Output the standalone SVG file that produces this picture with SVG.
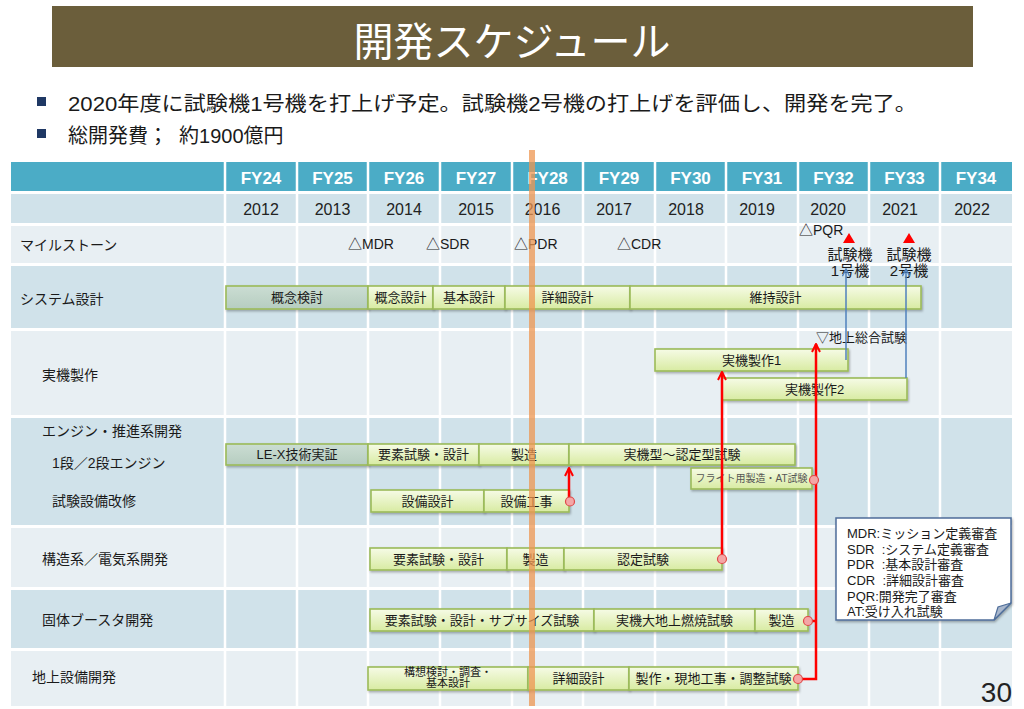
<svg xmlns="http://www.w3.org/2000/svg" width="1024" height="709" viewBox="0 0 1024 709">
<defs>
<linearGradient id="gGreen" x1="0" y1="0" x2="0" y2="1">
<stop offset="0" stop-color="#F6FBE6"/>
<stop offset="1" stop-color="#D8EBA2"/>
</linearGradient>
<linearGradient id="gGray" x1="0" y1="0" x2="0" y2="1">
<stop offset="0" stop-color="#CBDDD3"/>
<stop offset="1" stop-color="#B6CDC0"/>
</linearGradient>
<filter id="sh" x="-5%" y="-20%" width="110%" height="150%">
<feDropShadow dx="1" dy="1.5" stdDeviation="1" flood-color="#000" flood-opacity="0.3"/>
</filter>
<marker id="arrR" viewBox="0 0 10 10" refX="9" refY="5" markerWidth="10" markerHeight="10" markerUnits="userSpaceOnUse" orient="auto">
<path d="M1,1 L9,5 L1,9" fill="none" stroke="#FF0000" stroke-width="2"/>
</marker>
<marker id="arrB" viewBox="0 0 10 10" refX="9" refY="5" markerWidth="9" markerHeight="9" markerUnits="userSpaceOnUse" orient="auto">
<path d="M1,1 L9,5 L1,9" fill="none" stroke="#4F81BD" stroke-width="1.6"/>
</marker>
</defs>
<style>
text{font-family:"Liberation Sans","Noto Sans CJK JP",sans-serif;fill:#1a1a1a}
.fy{font-size:17px;font-weight:bold;fill:#fff;text-anchor:middle}
.yr{font-size:16px;text-anchor:middle;fill:#222}
.lbl{font-size:14px}
.ms{font-size:14px}
.bar{fill:url(#gGreen);stroke:#9BBB59;stroke-width:1.6;filter:url(#sh)}
.barg{fill:url(#gGray);stroke:#9BBB59;stroke-width:1.6;filter:url(#sh)}
.bt{font-size:13px;text-anchor:middle}
.bs{font-size:10px;text-anchor:middle;fill:#555}
.b2{font-size:11px;text-anchor:middle}
.vl{stroke:#fff;stroke-width:2.5}
.red{fill:none;stroke:#FF0000;stroke-width:2.5}
.blue{fill:none;stroke:#4F81BD;stroke-width:1.5}
.dot{fill:#F4A6A6;stroke:#E04848;stroke-width:1.2}
.lg{font-size:13px}
</style>
<rect width="1024" height="709" fill="#fff"/>
<g id="title">
<rect x="52" y="6" width="921" height="61" fill="#6B5E3B"/>
<text x="512" y="56" font-size="40" text-anchor="middle" style="fill:#fff">開発スケジュール</text>
</g>
<g id="bullets">
<rect x="37" y="97" width="9" height="9" fill="#1F3864"/>
<text x="68" y="111" font-size="20" textLength="849" lengthAdjust="spacingAndGlyphs">2020年度に試験機1号機を打上げ予定。試験機2号機の打上げを評価し、開発を完了。</text>
<rect x="37" y="129" width="9" height="9" fill="#1F3864"/>
<text x="68" y="143" font-size="20" xml:space="preserve">総開発費；  約1900億円</text>
</g>
<g id="grid">
<rect x="11" y="162" width="1001" height="29" fill="#4BACC6"/>
<rect x="11" y="194" width="1001" height="29" fill="#D0E2EA"/>
<rect x="11" y="226" width="1001" height="37" fill="#E8EFF3"/>
<rect x="11" y="266" width="1001" height="62" fill="#D0E2EA"/>
<rect x="11" y="331" width="1001" height="84" fill="#E8EFF3"/>
<rect x="11" y="418" width="1001" height="107" fill="#D0E2EA"/>
<rect x="11" y="528" width="1001" height="59" fill="#E8EFF3"/>
<rect x="11" y="590" width="1001" height="58" fill="#D0E2EA"/>
<rect x="11" y="651" width="1001" height="55" fill="#E8EFF3"/>
<line class="vl" x1="225" y1="160" x2="225" y2="708"/>
<line class="vl" x1="297" y1="160" x2="297" y2="708"/>
<line class="vl" x1="368" y1="160" x2="368" y2="708"/>
<line class="vl" x1="440" y1="160" x2="440" y2="708"/>
<line class="vl" x1="512" y1="160" x2="512" y2="708"/>
<line class="vl" x1="583" y1="160" x2="583" y2="708"/>
<line class="vl" x1="655" y1="160" x2="655" y2="708"/>
<line class="vl" x1="726" y1="160" x2="726" y2="708"/>
<line class="vl" x1="798" y1="160" x2="798" y2="708"/>
<line class="vl" x1="869" y1="160" x2="869" y2="708"/>
<line class="vl" x1="940" y1="160" x2="940" y2="708"/>
</g>
<g id="header">
<text class="fy" x="261" y="184">FY24</text>
<text class="fy" x="332.5" y="184">FY25</text>
<text class="fy" x="404" y="184">FY26</text>
<text class="fy" x="476" y="184">FY27</text>
<text class="fy" x="547.5" y="184">FY28</text>
<text class="fy" x="619" y="184">FY29</text>
<text class="fy" x="690.5" y="184">FY30</text>
<text class="fy" x="762" y="184">FY31</text>
<text class="fy" x="833.5" y="184">FY32</text>
<text class="fy" x="904.5" y="184">FY33</text>
<text class="fy" x="976" y="184">FY34</text>
<text class="yr" x="261" y="215">2012</text>
<text class="yr" x="332.5" y="215">2013</text>
<text class="yr" x="404" y="215">2014</text>
<text class="yr" x="476" y="215">2015</text>
<text class="yr" x="542.5" y="215">2016</text>
<text class="yr" x="614" y="215">2017</text>
<text class="yr" x="686" y="215">2018</text>
<text class="yr" x="757" y="215">2019</text>
<text class="yr" x="828" y="215">2020</text>
<text class="yr" x="900" y="215">2021</text>
<text class="yr" x="972" y="215">2022</text>
</g>
<g id="row-labels">
<text class="lbl" x="20" y="250">マイルストーン</text>
<text class="lbl" x="20" y="304">システム設計</text>
<text class="lbl" x="42" y="380">実機製作</text>
<text class="lbl" x="42" y="436">エンジン・推進系開発</text>
<text class="lbl" x="52" y="468">1段／2段エンジン</text>
<text class="lbl" x="52" y="506">試験設備改修</text>
<text class="lbl" x="42" y="564">構造系／電気系開発</text>
<text class="lbl" x="42" y="625">固体ブースタ開発</text>
<text class="lbl" x="32" y="682">地上設備開発</text>
</g>
<g id="milestones">
<text class="ms" x="348" y="249">△MDR</text>
<text class="ms" x="426" y="249">△SDR</text>
<text class="ms" x="514" y="249">△PDR</text>
<text class="ms" x="617" y="249">△CDR</text>
<text class="ms" x="799" y="235">△PQR</text>
</g>
<g id="launch1">
<polygon points="849,233 855,243 843,243" fill="#FF0000"/>
<text x="850" y="260" font-size="15" text-anchor="middle">試験機</text>
<text x="850" y="276" font-size="15" text-anchor="middle">1号機</text>
</g>
<g id="launch2">
<polygon points="909,233 915,243 903,243" fill="#FF0000"/>
<text x="909" y="260" font-size="15" text-anchor="middle">試験機</text>
<text x="909" y="276" font-size="15" text-anchor="middle">2号機</text>
</g>
<g id="sys-bars">
<g id="bar-gainen-kento"><rect class="barg" x="226" y="286" width="142" height="23"/><text class="bt" x="297" y="302">概念検討</text></g>
<g id="bar-gainen-sekkei"><rect class="bar" x="368" y="286" width="65" height="23"/><text class="bt" x="400.5" y="302">概念設計</text></g>
<g id="bar-kihon-sekkei"><rect class="bar" x="433" y="286" width="72" height="23"/><text class="bt" x="469" y="302">基本設計</text></g>
<g id="bar-shosai-sekkei"><rect class="bar" x="505" y="286" width="125" height="23"/><text class="bt" x="567.5" y="302">詳細設計</text></g>
<g id="bar-iji-sekkei"><rect class="bar" x="630" y="286" width="291" height="23"/><text class="bt" x="775.5" y="302">維持設計</text></g>
</g>
<g id="jikki-bars">
<g id="bar-jikki1"><rect class="bar" x="655" y="349" width="193" height="22"/><text class="bt" x="751.5" y="364.5">実機製作1</text></g>
<g id="bar-jikki2"><rect class="bar" x="722" y="378" width="185" height="22"/><text class="bt" x="814.5" y="393.5">実機製作2</text></g>
<g id="chijo-sogo"><text x="816" y="342" font-size="13">▽地上総合試験</text></g>
</g>
<g id="engine-bars">
<g id="bar-lex"><rect class="barg" x="226" y="444" width="142" height="21"/><text class="bt" x="297" y="459">LE-X技術実証</text></g>
<g id="bar-eng-yoso"><rect class="bar" x="368" y="444" width="111" height="21"/><text class="bt" x="423.5" y="459">要素試験・設計</text></g>
<g id="bar-eng-seizo"><rect class="bar" x="479" y="444" width="90" height="21"/><text class="bt" x="524" y="459">製造</text></g>
<g id="bar-eng-nintei"><rect class="bar" x="569" y="444" width="226" height="21"/><text class="bt" x="682" y="459">実機型～認定型試験</text></g>
<g id="bar-flight"><rect class="bar" x="691" y="468" width="121" height="21"/><text class="bs" x="751.5" y="482">フライト用製造・AT試験</text></g>
<g id="bar-setsubi-sekkei"><rect class="bar" x="371" y="490" width="113" height="22"/><text class="bt" x="427.5" y="505.5">設備設計</text></g>
<g id="bar-setsubi-koji"><rect class="bar" x="484" y="490" width="85" height="22"/><text class="bt" x="526.5" y="505.5">設備工事</text></g>
</g>
<g id="struct-bars">
<g id="bar-st-yoso"><rect class="bar" x="370" y="548" width="137" height="22"/><text class="bt" x="438.5" y="563.5">要素試験・設計</text></g>
<g id="bar-st-seizo"><rect class="bar" x="507" y="548" width="57" height="22"/><text class="bt" x="535.5" y="563.5">製造</text></g>
<g id="bar-st-nintei"><rect class="bar" x="564" y="548" width="158" height="22"/><text class="bt" x="643" y="563.5">認定試験</text></g>
</g>
<g id="srb-bars">
<g id="bar-srb-yoso"><rect class="bar" x="370" y="609" width="224" height="22"/><text class="bt" x="482" y="624.5">要素試験・設計・サブサイズ試験</text></g>
<g id="bar-srb-nenshou"><rect class="bar" x="594" y="609" width="161" height="22"/><text class="bt" x="674.5" y="624.5">実機大地上燃焼試験</text></g>
<g id="bar-srb-seizo"><rect class="bar" x="755" y="609" width="53" height="22"/><text class="bt" x="781.5" y="624.5">製造</text></g>
</g>
<g id="ground-bars">
<g id="bar-gr-koso"><rect class="bar" x="368" y="667" width="160" height="23"/><text class="b2" x="448" y="676">構想検討・調査・</text><text class="b2" x="448" y="687">基本設計</text></g>
<g id="bar-gr-shosai"><rect class="bar" x="528" y="667" width="101" height="23"/><text class="bt" x="578.5" y="683">詳細設計</text></g>
<g id="bar-gr-seisaku"><rect class="bar" x="629" y="667" width="169" height="23"/><text class="bt" x="713.5" y="683">製作・現地工事・調整試験</text></g>
</g>
<g id="connectors">
<path class="blue" d="M846,360 V269" marker-end="url(#arrB)"/>
<path class="blue" d="M906,378 V269" marker-end="url(#arrB)"/>
<path class="red" d="M569,498 V468" marker-end="url(#arrR)"/>
<path class="red" d="M722,555 V372" marker-end="url(#arrR)"/>
<path class="red" d="M802,679 H816 V344" marker-end="url(#arrR)"/>
<path class="red" d="M812,621 H816"/>
<circle class="dot" cx="570" cy="501.5" r="4.5"/>
<circle class="dot" cx="722" cy="559" r="4.5"/>
<circle class="dot" cx="814" cy="480" r="4.5"/>
<circle class="dot" cx="808" cy="621" r="4.5"/>
<circle class="dot" cx="798" cy="679" r="4.5"/>
</g>
<g id="today-line">
<rect x="529" y="150" width="6" height="556" fill="#EE9550" opacity="0.75"/>
</g>
<g id="legend">
<path d="M836,518 H1011 V603 L994,620 H836 Z" fill="#fff" stroke="#4F6E9A" stroke-width="1.5" filter="url(#sh)"/>
<path d="M994,620 L998,607 L1011,603 Z" fill="#A9B7CC" stroke="#4F6E9A" stroke-width="1.2"/>
<text class="lg" x="847" y="538">MDR:ミッション定義審査</text>
<text class="lg" x="847" y="553.5" xml:space="preserve">SDR  :システム定義審査</text>
<text class="lg" x="847" y="569" xml:space="preserve">PDR  :基本設計審査</text>
<text class="lg" x="847" y="585" xml:space="preserve">CDR  :詳細設計審査</text>
<text class="lg" x="847" y="600.5">PQR:開発完了審査</text>
<text class="lg" x="847" y="616">AT:受け入れ試験</text>
</g>
<g id="page-number">
<text x="1012" y="702" font-size="28" text-anchor="end" style="fill:#222">30</text>
</g>
</svg>
